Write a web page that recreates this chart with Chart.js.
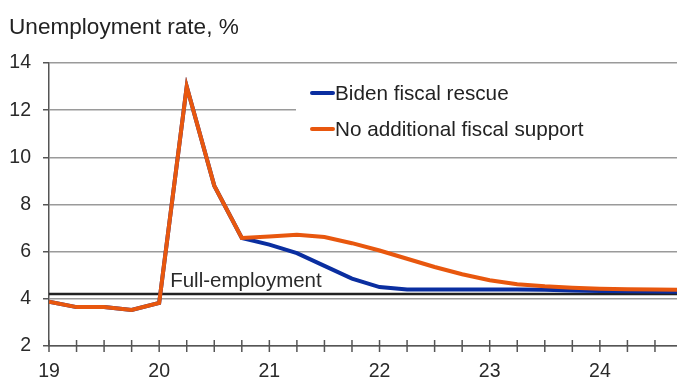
<!DOCTYPE html>
<html>
<head>
<meta charset="utf-8">
<script src="https://cdn.jsdelivr.net/npm/chart.js@4/dist/chart.umd.min.js"></script>
<style>
  html, body { margin: 0; padding: 0; background: #fff; }
  #wrap { width: 677px; height: 380px; position: relative; }
</style>
</head>
<body>
<div id="wrap"><canvas id="c" width="677" height="380"></canvas></div>
<script>
// ---- data ----
const quarters = [19, 19.25, 19.5, 19.75, 20, 20.25, 20.5, 20.75, 21, 21.25, 21.5, 21.75,
                  22, 22.25, 22.5, 22.75, 23, 23.25, 23.5, 23.75, 24, 24.25, 24.5, 24.75];
const bidenRescue = [3.88, 3.65, 3.65, 3.53, 3.83, 13.0, 8.8, 6.58, 6.3, 5.94, 5.4, 4.86,
                     4.5, 4.4, 4.4, 4.4, 4.4, 4.4, 4.38, 4.35, 4.33, 4.32, 4.31, 4.3];
const noSupport = [3.88, 3.65, 3.65, 3.53, 3.83, 13.0, 8.8, 6.58, 6.64, 6.72, 6.62, 6.36,
                   6.05, 5.7, 5.35, 5.04, 4.79, 4.62, 4.53, 4.47, 4.43, 4.41, 4.4, 4.38];
const yearTicks = [19, 20, 21, 22, 23, 24];
const yTicks = [2, 4, 6, 8, 10, 12, 14];
const fullEmployment = 4.2;
const seriesNames = ["Biden fiscal rescue", "No additional fiscal support"];
const yTitle = "Unemployment rate, %";
const fullEmpLabel = "Full-employment";

const BLUE = "#0a2ea0";
const ORANGE = "#e8570e";
const FONT = "'Liberation Sans', Arial, sans-serif";

const toXY = (vals) => vals.map((v, i) => ({ x: quarters[i], y: v }));

const deco = {
  id: "deco",
  beforeDatasetsDraw(chart) {
    const { ctx, chartArea, scales: { x, y } } = chart;
    ctx.save();
    // legend backdrop
    ctx.fillStyle = "#ffffff";
    ctx.fillRect(296, 72, chartArea.right - 296, 72);
    // full employment line
    const yy = y.getPixelForValue(fullEmployment);
    ctx.strokeStyle = "#222";
    ctx.lineWidth = 2.5;
    ctx.beginPath();
    ctx.moveTo(chartArea.left, yy);
    ctx.lineTo(chartArea.right, yy);
    ctx.stroke();
    ctx.fillStyle = "#2a2a2a";
    ctx.font = "20.5px " + FONT;
    ctx.textBaseline = "alphabetic";
    ctx.textAlign = "left";
    ctx.fillText(fullEmpLabel, x.getPixelForValue(20.1), yy - 7);
    ctx.restore();
  },
  afterDraw(chart) {
    const { ctx, chartArea, scales: { x } } = chart;
    ctx.save();
    // quarterly tick marks crossing the x axis
    ctx.strokeStyle = "#555";
    ctx.lineWidth = 1.5;
    quarters.forEach(q => {
      if (q > x.max) return;
      const px = x.getPixelForValue(q);
      ctx.beginPath();
      ctx.moveTo(px, chartArea.bottom - 6);
      ctx.lineTo(px, chartArea.bottom + 6);
      ctx.stroke();
    });
    // axis title
    ctx.fillStyle = "#222";
    ctx.font = "22.6px " + FONT;
    ctx.textAlign = "left";
    ctx.textBaseline = "alphabetic";
    ctx.fillText(yTitle, 9, 34);
    // legend
    const rows = [
      { color: BLUE, label: seriesNames[0], ly: 93, by: 100 },
      { color: ORANGE, label: seriesNames[1], ly: 129, by: 136 }
    ];
    ctx.font = "20.7px " + FONT;
    rows.forEach(r => {
      ctx.strokeStyle = r.color;
      ctx.lineWidth = 4;
      ctx.lineCap = "round";
      ctx.beginPath();
      ctx.moveTo(312, r.ly);
      ctx.lineTo(333, r.ly);
      ctx.stroke();
      ctx.fillStyle = "#222";
      ctx.fillText(r.label, 335, r.by);
    });
    ctx.restore();
  }
};

new Chart(document.getElementById("c"), {
  type: "line",
  data: {
    datasets: [
      { label: seriesNames[0], data: toXY(bidenRescue), borderColor: BLUE, backgroundColor: BLUE,
        borderWidth: 4, pointRadius: 0, tension: 0, borderJoinStyle: "miter", order: 1 },
      { label: seriesNames[1], data: toXY(noSupport), borderColor: ORANGE, backgroundColor: ORANGE,
        borderWidth: 4, pointRadius: 0, tension: 0, borderJoinStyle: "miter", order: 0 }
    ]
  },
  options: {
    responsive: false,
    animation: false,
    events: [],
    layout: { padding: { top: 63, right: 0, left: 0, bottom: 0 } },
    plugins: { legend: { display: false }, tooltip: { enabled: false }, title: { display: false } },
    scales: {
      x: {
        type: "linear",
        min: 19,
        max: 24.7,
        afterBuildTicks: (s) => { s.ticks = yearTicks.map(v => ({ value: v })); },
        afterFit: (s) => { s.height = 34; },
        grid: { display: false },
        border: { display: true, color: "#555", width: 1.5 },
        ticks: {
          autoSkip: false, maxRotation: 0, padding: 6,
          color: "#2a2a2a", font: { family: FONT, size: 19.5 },
          callback: (v) => String(v)
        }
      },
      y: {
        min: 2,
        max: 14,
        afterBuildTicks: (s) => { s.ticks = yTicks.map(v => ({ value: v })); },
        afterFit: (s) => { s.width = 49; },
        grid: { color: "#9a9a9a", lineWidth: 1.5, tickLength: 6, tickColor: "#555", drawTicks: true },
        border: { display: true, color: "#555", width: 1.5 },
        ticks: { padding: 12, color: "#2a2a2a", font: { family: FONT, size: 19.5 } }
      }
    }
  },
  plugins: [deco]
});
</script>
</body>
</html>
